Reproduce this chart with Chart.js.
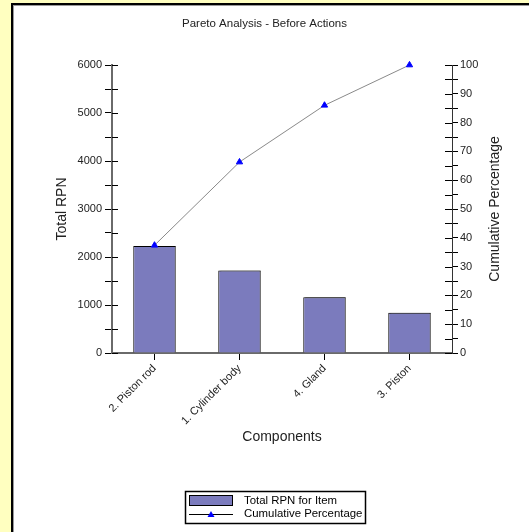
<!DOCTYPE html>
<html>
<head>
<meta charset="utf-8">
<script src="https://cdn.jsdelivr.net/npm/chart.js@4.4.0/dist/chart.umd.min.js"></script>
<style>
  html, body { margin: 0; padding: 0; background: #FFFFC0; }
  #wrap { width: 529px; height: 532px; position: relative; }
</style>
</head>
<body>
<div id="wrap"><canvas id="c" width="529" height="532"></canvas></div>
<script>
// ---- data ----
const categories = ['2. Piston rod', '1. Cylinder body', '4. Gland', '3. Piston'];
const rpnValues = [2230, 1720, 1160, 840];
const cumulativePct = [37.4, 66.3, 86.0, 100];
const chartTitle = 'Pareto Analysis - Before Actions';
const xTitle = 'Components';
const yTitle = 'Total RPN';
const y1Title = 'Cumulative Percentage';
const seriesNames = ['Total RPN for Item', 'Cumulative Percentage'];

const FONT = "'Liberation Sans', Arial, sans-serif";
const BAR_COLOR = '#7B7BBD';
const POINT_COLOR = '#0000FF';

const backgroundPlugin = {
  id: 'bg',
  beforeDraw(chart) {
    const ctx = chart.ctx;
    ctx.save();
    ctx.fillStyle = '#FFFFC0';
    ctx.fillRect(0, 0, chart.width, chart.height);
    ctx.fillStyle = '#FFFFFF';
    ctx.fillRect(11, 3, chart.width - 11, chart.height - 3);
    ctx.fillStyle = '#000000';
    ctx.fillRect(11, 3, 2, chart.height - 3);
    ctx.fillRect(11, 3, chart.width - 11, 2);
    ctx.fillStyle = '#9a9a9a';
    ctx.fillRect(13, 5, 1, chart.height - 5);
    ctx.fillRect(13, 5, chart.width - 13, 1);
    ctx.restore();
  }
};

const barShadowPlugin = {
  id: 'barShadow',
  beforeDatasetDraw(chart, args) {
    if (chart.data.datasets[args.index].type === 'bar') {
      const ctx = chart.ctx;
      ctx.save();
      ctx.shadowColor = 'rgba(120,120,120,0.9)';
      ctx.shadowOffsetX = 2;
      ctx.shadowOffsetY = 0;
      ctx.shadowBlur = 0;
    }
  },
  afterDatasetDraw(chart, args) {
    if (chart.data.datasets[args.index].type === 'bar') {
      chart.ctx.restore();
    }
  }
};

const decoPlugin = {
  id: 'deco',
  afterDraw(chart) {
    const ctx = chart.ctx;
    const area = chart.chartArea;
    const ys = chart.scales.y;
    const y1 = chart.scales.y1;
    ctx.save();
    // inner halves of the crossing tick marks
    ctx.strokeStyle = '#000';
    ctx.lineWidth = 1;
    ctx.beginPath();
    ys.ticks.forEach((t, i) => {
      const p = Math.round(ys.getPixelForTick(i)) + 0.5;
      ctx.moveTo(area.left, p);
      ctx.lineTo(area.left + 6, p);
    });
    y1.ticks.forEach((t, i) => {
      const p = Math.round(y1.getPixelForTick(i)) + 0.5;
      ctx.moveTo(area.right - 7, p);
      ctx.lineTo(area.right, p);
    });
    ctx.stroke();

    // right axis title, reading bottom-to-top
    ctx.fillStyle = '#222';
    ctx.font = '14px ' + FONT;
    ctx.textAlign = 'center';
    ctx.textBaseline = 'middle';
    ctx.translate(495, (area.top + area.bottom) / 2);
    ctx.rotate(-Math.PI / 2);
    ctx.fillText(y1Title, 0, 0);
    ctx.setTransform(1, 0, 0, 1, 0, 0);

    // legend
    const lx = 185, ly = 491, lw = 180, lh = 32;
    ctx.fillStyle = '#fff';
    ctx.fillRect(lx, ly, lw, lh);
    ctx.strokeStyle = '#000';
    ctx.lineWidth = 1.5;
    ctx.strokeRect(lx + 0.5, ly + 0.5, lw, lh);
    // bar swatch
    ctx.fillStyle = BAR_COLOR;
    ctx.fillRect(189, 495, 43, 10);
    ctx.lineWidth = 1;
    ctx.strokeRect(189.5, 495.5, 43, 10);
    // line swatch
    ctx.beginPath();
    ctx.moveTo(189, 514.5);
    ctx.lineTo(233, 514.5);
    ctx.stroke();
    ctx.fillStyle = POINT_COLOR;
    ctx.beginPath();
    ctx.moveTo(211, 511);
    ctx.lineTo(214.5, 517);
    ctx.lineTo(207.5, 517);
    ctx.closePath();
    ctx.fill();
    ctx.fillStyle = '#000';
    ctx.font = '11.4px ' + FONT;
    ctx.textAlign = 'left';
    ctx.textBaseline = 'middle';
    ctx.fillText(seriesNames[0], 244, 500.5);
    ctx.fillText(seriesNames[1], 244, 514);
    ctx.restore();
  }
};

new Chart(document.getElementById('c'), {
  data: {
    labels: categories,
    datasets: [
      {
        type: 'line',
        label: seriesNames[1],
        data: cumulativePct,
        yAxisID: 'y1',
        borderColor: '#8a8a8a',
        borderWidth: 1,
        pointStyle: 'triangle',
        pointRadius: 3.6,
        pointBackgroundColor: POINT_COLOR,
        pointBorderColor: POINT_COLOR,
        pointBorderWidth: 1,
        tension: 0,
        clip: false,
        order: 0
      },
      {
        type: 'bar',
        label: seriesNames[0],
        data: rpnValues,
        yAxisID: 'y',
        backgroundColor: BAR_COLOR,
        borderColor: '#000',
        borderWidth: 1,
        barPercentage: 0.5,
        categoryPercentage: 1.0,
        order: 1
      }
    ]
  },
  options: {
    responsive: false,
    animation: false,
    layout: { padding: { left: 0, right: 0, top: 0, bottom: 79 } },
    plugins: {
      legend: { display: false },
      tooltip: { enabled: false },
      title: {
        display: true,
        text: chartTitle,
        color: '#222',
        font: { family: FONT, size: 11.5, weight: 'normal', lineHeight: 1.2 },
        padding: { top: 17, bottom: 34.2 }
      }
    },
    scales: {
      x: {
        offset: true,
        grid: { display: true, drawOnChartArea: false, tickLength: 7, color: '#000', offset: false },
        border: { display: true, color: '#6a6a6a', width: 2 },
        ticks: {
          color: '#222', font: { family: FONT, size: 11 },
          minRotation: 45, maxRotation: 45, padding: 2, autoSkip: false
        },
        title: {
          display: true, text: xTitle, color: '#222',
          font: { family: FONT, size: 14, lineHeight: 1.2 },
          padding: { top: 0, bottom: 7.6 }
        },
        afterFit(s) { s.height = 100; }
      },
      y: {
        position: 'left',
        min: 0, max: 6000,
        grid: { display: true, drawOnChartArea: false, tickLength: 7, color: '#000' },
        border: { display: true, color: '#6a6a6a', width: 2 },
        ticks: {
          stepSize: 500, autoSkip: false, padding: 3,
          color: '#222', font: { family: FONT, size: 11 },
          callback: (v) => (v % 1000 === 0 ? String(v) : '')
        },
        title: {
          display: true, text: yTitle, color: '#222',
          font: { family: FONT, size: 14, lineHeight: 1.2 },
          padding: { top: 53.6, bottom: 0 }
        },
        afterFit(s) { s.width = 112; }
      },
      y1: {
        position: 'right',
        min: 0, max: 100,
        grid: { display: true, drawOnChartArea: false, tickLength: 6, color: '#000' },
        border: { display: true, color: '#333', width: 1 },
        ticks: {
          stepSize: 5, autoSkip: false, padding: 2,
          color: '#222', font: { family: FONT, size: 11 },
          callback: (v) => (v % 10 === 0 ? String(v) : '')
        },
        afterFit(s) { s.width = 77; }
      }
    }
  },
  plugins: [backgroundPlugin, barShadowPlugin, decoPlugin]
});
</script>
</body>
</html>
